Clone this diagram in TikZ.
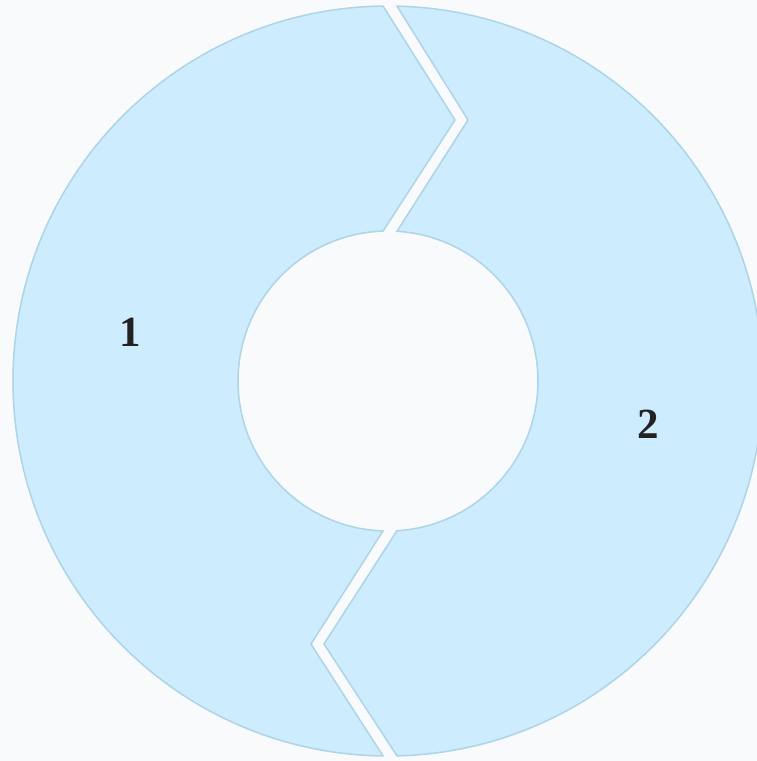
\documentclass[tikz,border=0pt]{standalone}
\usepackage{fontspec}
\setmainfont{Liberation Serif}
\definecolor{bgc}{HTML}{F8FAFC}
\definecolor{piecefill}{HTML}{CDEDFF}
\definecolor{piecedraw}{HTML}{AED4E6}
\definecolor{labc}{HTML}{222222}
\begin{document}
\begin{tikzpicture}[x=1pt,y=1pt,
  piece/.style={fill=piecefill,draw=piecedraw,line width=1.5pt,line join=miter},
  lab/.style={text=labc,font=\fontsize{43}{43}\selectfont\bfseries,inner sep=0pt}]
\fill[bgc] (-388,-380) rectangle (369,381);
\useasboundingbox (-388,-380) rectangle (369,381);
% left piece
\draw[piece] (90.76:375) arc[start angle=90.76,end angle=269.24,radius=375]
  -- (-77,-263) -- (268.1:150) arc[start angle=268.1,end angle=91.9,radius=150]
  -- (67,261) -- cycle;
% right piece
\draw[piece] (88.62:375) arc[start angle=88.62,end angle=-88.62,radius=375]
  -- (-64,-263) -- (-86.56:150) arc[start angle=-86.56,end angle=86.56,radius=150]
  -- (80,261) -- cycle;
\node[lab] (l1) at (-258,49) {1};
\node[lab] (l2) at (260,-43) {2};
\end{tikzpicture}
\end{document}
